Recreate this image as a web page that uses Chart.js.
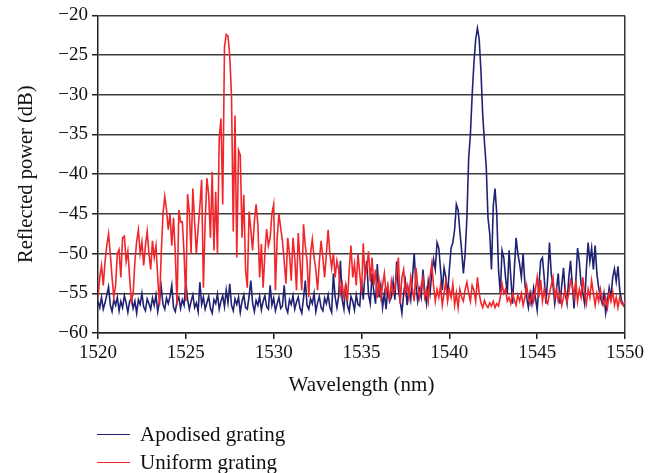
<!DOCTYPE html>
<html lang="en">
<head>
  <meta charset="UTF-8" />
  <title>Reflected power spectra</title>
  <script src="https://cdn.jsdelivr.net/npm/chart.js"></script>
  <style>
    body { margin: 0; background: #fff; }
    .wrap { position: relative; width: 656px; height: 473px; }
    .legend { position: absolute; left: 97px; top: 420px; font: 21px "Liberation Serif", serif; color: #111; }
    .legend div { height: 28px; line-height: 28px; display: flex; align-items: center; }
    .legend span.swatch { display: inline-block; width: 33px; height: 0; border-top: 1.5px solid; margin-right: 10px; }
  </style>
</head>
<body>
  <div class="wrap">
    <canvas id="spectrum" width="656" height="473"></canvas>
    <div class="legend" id="legend"></div>
  </div>

  <script>
    // wavelength grid, 0.1 nm steps from 1520 to 1550
    const wavelengths = Array.from({ length: 301 }, (_, i) => +(1520 + i * 0.1).toFixed(1));
    const xTicks = [1520, 1525, 1530, 1535, 1540, 1545, 1550];
    const yTicks = [-60, -55, -50, -45, -40, -35, -30, -25, -20];
    const seriesNames = ['Apodised grating', 'Uniform grating'];

    // Apodised grating (dB)
    const apodised = [
      -56, -56.8, -55.5, -57, -56.2, -55.2, -54.2, -56.5, -57.3, -55.8,
      -56.5, -55.5, -57.2, -56, -56.8, -55.3, -56.2, -57.4, -56, -55.6,
      -56.9, -56, -57.5, -55.8, -56.4, -55, -56.7, -57.2, -55.7, -56.3,
      -57, -55.6, -56.5, -55.2, -57.3, -56, -54.2, -56.4, -57, -55.6,
      -56.3, -55.4, -54, -56.8, -57.3, -56, -55.5, -56.9, -55.8, -56.5,
      -53.7, -55.8, -57, -56, -55.2, -56.8, -56.2, -57.3, -53.6, -56.4,
      -55.5, -57, -56.2, -55.4, -56.9, -57.5, -55.8, -56.3, -55.1, -57,
      -56, -55.3, -56.7, -54.6, -56.2, -53.8, -56.5, -57.2, -55.7, -56.4,
      -55.5, -57.4, -56, -55.2, -56.8, -57, -55.4, -53.4, -56.2, -57.3,
      -55.9, -56.5, -55.4, -57.1, -56, -55.3, -56.7, -57, -54, -56.5,
      -55.6, -57.2, -56.3, -55.5, -56.9, -56.6, -54, -56.8, -57.4, -55.8,
      -56.4, -55.3, -57, -56.1, -55.5, -56.9, -57.5, -55.6, -53.4, -56.5,
      -57, -55.7, -56.3, -55, -57.3, -56.2, -55.4, -56.8, -57.2, -55.6,
      -56.3, -55.2, -56.8, -57.4, -52.5, -55.5, -56.8, -55.3, -50.9, -55.8,
      -57, -53.8, -56.5, -57.3, -55.4, -56, -57.1, -55.2, -56.4, -56.6,
      -53.4, -55.8, -52.5, -50.9, -55.2, -56.3, -52.5, -54.8, -56.3, -51.3,
      -55.5, -54, -56.8, -55, -57, -54.3, -56, -55.5, -53.5, -55.8,
      -51, -54.5, -56, -57.5, -55, -53.5, -56.5, -54.5, -55.8, -53,
      -50, -54, -56, -54.5, -55.5, -52, -54.8, -56.3, -53.5, -55,
      -52.5, -50.7, -52, -48.6, -49.3, -52, -54.6, -51.8, -53, -55.3,
      -52, -49.3, -48.6, -47, -43.8, -44.5, -47.2, -49.6, -52.5, -50,
      -45.5, -38, -35, -30, -26, -23, -21.6, -23, -27, -32.5,
      -36, -39, -45.5, -47.5, -52, -44, -41.8, -45, -52, -55,
      -49.6, -50.5, -53, -55, -49.6, -53, -56.3, -52, -48, -50,
      -51.3, -53, -50, -53.8, -55.5, -56.8, -55, -56.3, -54.3, -55.5,
      -57.1, -54, -50.9, -50.5, -53, -56.3, -53, -48.6, -52.5, -54,
      -56.3, -54.5, -52.5, -56.3, -54, -51.8, -55, -56.3, -53, -50.9,
      -54, -56.9, -53.5, -49.3, -51, -53.8, -55, -56.3, -52, -48.6,
      -51, -49.3, -52, -49, -52.5, -54.3, -55.5, -56.3, -55, -57.5,
      -56, -54.3, -55.5, -53, -51.9, -53.5, -51.6, -54.6, -55.9, -56.5,
      -56.8
    ];

    // Uniform grating (dB)
    const uniform = [
      -55.5, -53, -51.5, -54, -51, -49, -47.5, -50, -53, -55.5,
      -54, -50, -49.5, -53, -48, -47.8, -51, -49.7, -53, -56,
      -55, -51, -48.5, -47, -50, -48.5, -51.5, -49, -47.2, -50,
      -52, -48.4, -50.5, -49, -53, -56.5, -50, -45, -42.8, -44.5,
      -47, -45, -49, -45.5, -50, -56.5, -44.5, -46, -46, -50,
      -56, -42.5, -44.8, -50, -41.8, -46, -50, -46.8, -44, -40.7,
      -54.3, -46, -40.5, -42.6, -48, -39.7, -49.6, -42.2, -50, -35.6,
      -33, -43.8, -24, -22.4, -22.6, -25.1, -30.1, -47.2, -32.6, -50.5,
      -37, -37.6, -48, -42.6, -52, -54.3, -44.7, -47, -49.6, -46,
      -43.8, -46.3, -53, -48.8, -54.3, -50, -46.9, -49, -48, -45,
      -43.8, -54.6, -48, -45, -46.8, -48.4, -51, -53.8, -48, -50,
      -53.4, -48, -50.5, -54.6, -47.4, -51, -54.6, -46.3, -49, -50.9,
      -55.5, -50, -48.2, -50.5, -52, -54.6, -51, -48.4, -50.5, -53,
      -50, -47, -50, -51.8, -50, -53, -50.9, -52, -55, -53.8,
      -55.5, -54, -56, -52, -49, -53, -51.3, -54, -50, -52.5,
      -55, -48.7, -53, -51.8, -49.7, -53.5, -50.5, -54, -52, -55.6,
      -53.4, -55.5, -54, -52.5, -55, -54, -56, -53.5, -55, -54.5,
      -52.5, -50.5, -56.3, -53, -52, -55, -54, -55.5, -53, -54.5,
      -56, -51.8, -54, -55.5, -54, -53, -55.5, -54.5, -56, -53,
      -51.3, -54, -56, -54.5, -55.5, -54, -56.5, -55, -53.5, -56,
      -54.5, -55.5, -53.8, -56.5, -55, -56.8, -54.5, -55.5, -56, -54.5,
      -53.6, -55, -56, -54, -54.6, -56, -53, -55, -56.2, -56.8,
      -55.9, -56.5, -56.8, -56.2, -56.6, -56, -56.8, -56.3, -56.6, -55.5,
      -53.8, -55, -54.5, -56, -55.5, -56.3, -55, -55.8, -56.5, -55.2,
      -56, -55, -56.5, -55.5, -54, -55.5, -56.3, -55, -56, -54.5,
      -53, -55.5, -53.3, -56, -54.5, -55.8, -56.3, -55, -54, -53,
      -55.5, -54.5, -56, -55, -56.5, -55.5, -54.5, -56, -55, -53.4,
      -54, -55.5, -53.4, -56, -54.5, -55.5, -53, -55, -56.3, -54.5,
      -55.5, -53.4, -55, -56.5, -55, -56, -54.5, -55.8, -56.5, -55.5,
      -56.8, -55, -56, -54.8, -56.5, -55.5, -56.8, -55.5, -56.3, -56.5,
      -56
    ];

    const blueColor = '#1f2272';
    const redColor = '#f0262b';
    const fontFamily = '"Liberation Serif", "DejaVu Serif", serif';

    const minusFmt = v => (v < 0 ? '\u2212' + Math.abs(v) : String(v));

    const ctx = document.getElementById('spectrum').getContext('2d');

    const chart = new Chart(ctx, {
      type: 'line',
      data: {
        datasets: [
          {
            label: seriesNames[0],
            data: wavelengths.map((x, i) => ({ x: x, y: apodised[i] })),
            borderColor: blueColor,
            borderWidth: 1.6,
            pointRadius: 0,
            tension: 0,
            order: 1
          },
          {
            label: seriesNames[1],
            data: wavelengths.map((x, i) => ({ x: x, y: uniform[i] })),
            borderColor: redColor,
            borderWidth: 1.6,
            pointRadius: 0,
            tension: 0,
            order: 0
          }
        ]
      },
      options: {
        responsive: false,
        devicePixelRatio: 1,
        animation: false,
        layout: { padding: { left: 14, top: 12, right: 31, bottom: 75 } },
        plugins: { legend: { display: false }, tooltip: { enabled: false } },
        scales: {
          x: {
            type: 'linear',
            min: 1520,
            max: 1550,
            afterBuildTicks: axis => { axis.ticks = xTicks.map(v => ({ value: v })); },
            afterFit: axis => { axis.height = 65; },
            ticks: { color: '#111', font: { family: fontFamily, size: 19 }, padding: 3, maxRotation: 0, callback: v => String(v) },
            grid: {
              drawOnChartArea: true,
              color: c => (c.tick && c.tick.value === 1550 ? '#333' : 'rgba(0,0,0,0)'),
              tickColor: '#222',
              tickLength: 6,
              lineWidth: 1.5
            },
            border: { color: '#222', width: 1.5 },
            title: { display: true, text: 'Wavelength (nm)', color: '#111', font: { family: fontFamily, size: 21 }, padding: 0 }
          },
          y: {
            min: -60,
            max: -20,
            afterBuildTicks: axis => { axis.ticks = yTicks.map(v => ({ value: v })); },
            afterFit: axis => { axis.width = 84; },
            ticks: { color: '#111', font: { family: fontFamily, size: 19 }, padding: 4, callback: minusFmt },
            grid: { color: '#3c3c3c', lineWidth: 1.5, tickColor: '#222', tickLength: 6 },
            border: { color: '#222', width: 1.5 },
            title: { display: true, text: 'Reflected power (dB)', color: '#111', font: { family: fontFamily, size: 20.5 }, padding: 0 }
          }
        }
      }
    });

    // legend below the chart, one row per series
    const legendEl = document.getElementById('legend');
    chart.data.datasets.forEach(ds => {
      const row = document.createElement('div');
      const sw = document.createElement('span');
      sw.className = 'swatch';
      sw.style.borderColor = ds.borderColor;
      row.appendChild(sw);
      row.appendChild(document.createTextNode(ds.label));
      legendEl.appendChild(row);
    });
  </script>
</body>
</html>
